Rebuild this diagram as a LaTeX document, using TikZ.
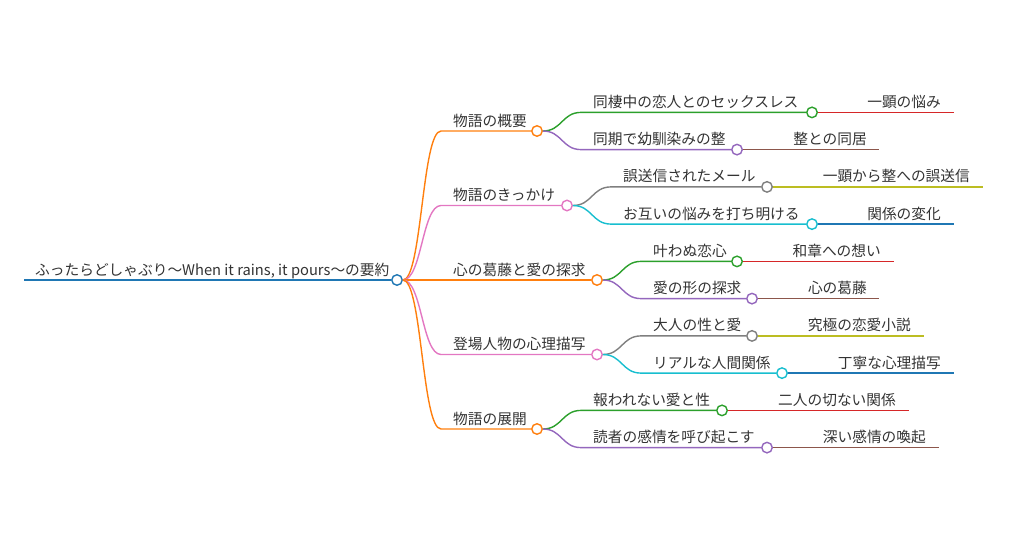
\documentclass[tikz,border=0pt]{standalone}
\usepackage{fontspec}
\setmainfont{Noto Sans CJK JP}
\definecolor{txt}{RGB}{51,51,51}
\definecolor{cB}{HTML}{1F77B4}
\definecolor{cO}{HTML}{FF7F0E}
\definecolor{cG}{HTML}{2CA02C}
\definecolor{cR}{HTML}{D62728}
\definecolor{cP}{HTML}{9467BD}
\definecolor{cN}{HTML}{8C564B}
\definecolor{cK}{HTML}{E377C2}
\definecolor{cY}{HTML}{7F7F7F}
\definecolor{cL}{HTML}{BCBD22}
\definecolor{cC}{HTML}{17BECF}
\begin{document}
\begin{tikzpicture}[x=1pt,y=-1pt,
  conn/.style={line width=1.4pt},
  dot/.style={circle,draw,fill=white,inner sep=0pt,minimum size=10.5pt,line width=1.4pt},
  lbl/.style={text=txt,font=\fontsize{14.7}{16}\selectfont,inner sep=0pt,anchor=base west},
  glbl/.style={lbl,anchor=base east},
  curv/.style={to path={.. controls +(19,0) and +(-19,0) .. (\tikztotarget)}}]
\useasboundingbox (0,0) rectangle (1024,559);
% root
\coordinate (r0) at (24,280);
\node[dot,draw=cB] (r) at (397,280) {};
\node[lbl] (rt) at (35,275) {ふったらどしゃぶり〜When it rains, it pours〜の要約};
\draw[conn,cB] (r0) -- (r.west);
% level 1
\coordinate (sA) at (441,131);
\coordinate (sB) at (441,205.5);
\coordinate (sC) at (441,280);
\coordinate (sD) at (441,354.5);
\coordinate (sE) at (441,429);
\node[dot,draw=cO] (A) at (537,131) {};
\node[dot,draw=cK] (B) at (567,205.5) {};
\node[dot,draw=cO] (C) at (597,280) {};
\node[dot,draw=cK] (D) at (597,354.5) {};
\node[dot,draw=cO] (E) at (537,429) {};
\node[lbl] (tA) at (453,126) {物語の概要};
\node[lbl] (tB) at (453,200.5) {物語のきっかけ};
\node[lbl] (tC) at (453,275) {心の葛藤と愛の探求};
\node[lbl] (tD) at (453,349.5) {登場人物の心理描写};
\node[lbl] (tE) at (453,424) {物語の展開};
\draw[conn,cO] (r.east) to[curv] (sA) -- (A.west);
\draw[conn,cK] (r.east) to[curv] (sB) -- (B.west);
\draw[conn,cO] (r.east) -- (C.west);
\draw[conn,cK] (r.east) to[curv] (sD) -- (D.west);
\draw[conn,cO] (r.east) to[curv] (sE) -- (E.west);
% level 2 start coordinates
\coordinate (sA1) at (581,112.4);
\coordinate (sA2) at (581,149.6);
\coordinate (sB1) at (611,186.9);
\coordinate (sB2) at (611,224.1);
\coordinate (sC1) at (641,261.4);
\coordinate (sC2) at (641,298.6);
\coordinate (sD1) at (641,335.9);
\coordinate (sD2) at (641,373.1);
\coordinate (sE1) at (581,410.4);
\coordinate (sE2) at (581,447.6);
% level 2 circles
\node[dot,draw=cG] (A1) at (812,112.4) {};
\node[dot,draw=cP] (A2) at (737,149.6) {};
\node[dot,draw=cY] (B1) at (767,186.9) {};
\node[dot,draw=cC] (B2) at (812,224.1) {};
\node[dot,draw=cG] (C1) at (737,261.4) {};
\node[dot,draw=cP] (C2) at (752,298.6) {};
\node[dot,draw=cY] (D1) at (752,335.9) {};
\node[dot,draw=cC] (D2) at (782,373.1) {};
\node[dot,draw=cG] (E1) at (722,410.4) {};
\node[dot,draw=cP] (E2) at (767,447.6) {};
% level 2 labels
\node[lbl] (tA1) at (593,107.4) {同棲中の恋人とのセックスレス};
\node[lbl] (tA2) at (593,144.6) {同期で幼馴染みの整};
\node[lbl] (tB1) at (623,181.9) {誤送信されたメール};
\node[lbl] (tB2) at (623,219.1) {お互いの悩みを打ち明ける};
\node[lbl] (tC1) at (653,256.4) {叶わぬ恋心};
\node[lbl] (tC2) at (653,293.6) {愛の形の探求};
\node[lbl] (tD1) at (653,330.9) {大人の性と愛};
\node[lbl] (tD2) at (653,368.1) {リアルな人間関係};
\node[lbl] (tE1) at (593,405.4) {報われない愛と性};
\node[lbl] (tE2) at (593,442.6) {読者の感情を呼び起こす};
% level 2 connectors
\draw[conn,cG] (A.east) to[curv] (sA1) -- (A1.west);
\draw[conn,cP] (A.east) to[curv] (sA2) -- (A2.west);
\draw[conn,cY] (B.east) to[curv] (sB1) -- (B1.west);
\draw[conn,cC] (B.east) to[curv] (sB2) -- (B2.west);
\draw[conn,cG] (C.east) to[curv] (sC1) -- (C1.west);
\draw[conn,cP] (C.east) to[curv] (sC2) -- (C2.west);
\draw[conn,cY] (D.east) to[curv] (sD1) -- (D1.west);
\draw[conn,cC] (D.east) to[curv] (sD2) -- (D2.west);
\draw[conn,cG] (E.east) to[curv] (sE1) -- (E1.west);
\draw[conn,cP] (E.east) to[curv] (sE2) -- (E2.west);
% level 3
\coordinate (eA1) at (954,112.4);
\coordinate (eA2) at (879,149.6);
\coordinate (eB1) at (983,186.9);
\coordinate (eB2) at (954,224.1);
\coordinate (eC1) at (894,261.4);
\coordinate (eC2) at (879,298.6);
\coordinate (eD1) at (924,335.9);
\coordinate (eD2) at (954,373.1);
\coordinate (eE1) at (909,410.4);
\coordinate (eE2) at (939,447.6);
\draw[conn,cR] (A1.east) -- (eA1);
\draw[conn,cN] (A2.east) -- (eA2);
\draw[conn,cL] (B1.east) -- (eB1);
\draw[conn,cB] (B2.east) -- (eB2);
\draw[conn,cR] (C1.east) -- (eC1);
\draw[conn,cN] (C2.east) -- (eC2);
\draw[conn,cL] (D1.east) -- (eD1);
\draw[conn,cB] (D2.east) -- (eD2);
\draw[conn,cR] (E1.east) -- (eE1);
\draw[conn,cN] (E2.east) -- (eE2);
\node[glbl] (gA1) at (941,107.4) {一顕の悩み};
\node[glbl] (gA2) at (867,144.6) {整との同居};
\node[glbl] (gB1) at (970,181.9) {一顕から整への誤送信};
\node[glbl] (gB2) at (941,219.1) {関係の変化};
\node[glbl] (gC1) at (881,256.4) {和章への想い};
\node[glbl] (gC2) at (867,293.6) {心の葛藤};
\node[glbl] (gD1) at (911,330.9) {究極の恋愛小説};
\node[glbl] (gD2) at (941,368.1) {丁寧な心理描写};
\node[glbl] (gE1) at (896,405.4) {二人の切ない関係};
\node[glbl] (gE2) at (926,442.6) {深い感情の喚起};
\end{tikzpicture}
\end{document}
